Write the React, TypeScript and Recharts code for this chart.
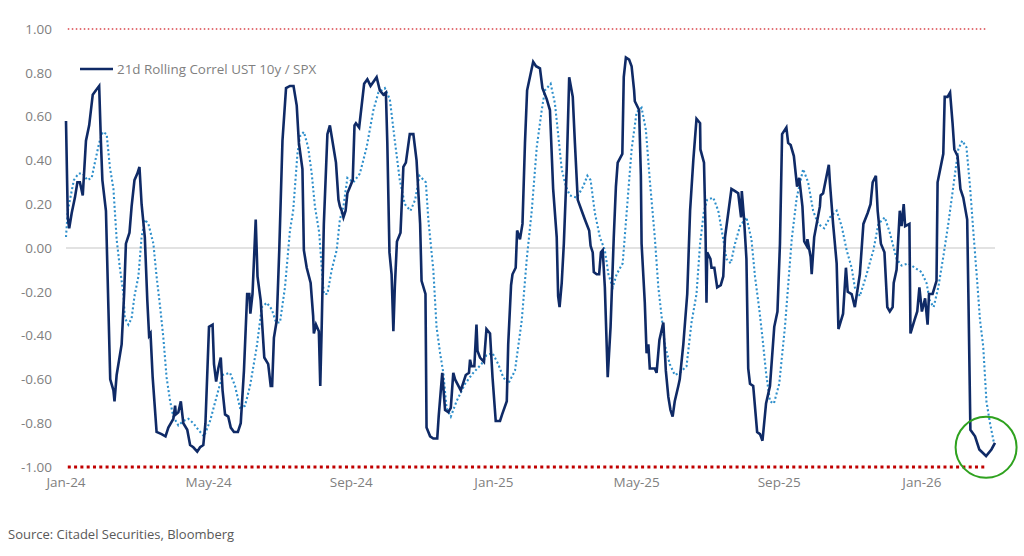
import { Legend, Line, LineChart, ReferenceDot, ReferenceLine, XAxis, YAxis } from "recharts";

// x positions are months since Jan-24
const mainMonths = [
  0.00, 0.05, 0.09, 0.16, 0.25, 0.32, 0.39, 0.47, 0.56, 0.65, 0.75, 0.84, 0.93, 0.98, 1.02, 1.12, 1.19, 1.24, 1.33, 1.36,
  1.42, 1.56, 1.63, 1.68, 1.78, 1.84, 1.92, 2.00, 2.06, 2.12, 2.21, 2.28, 2.33, 2.37, 2.43, 2.54, 2.68, 2.79, 2.87, 3.01,
  3.06, 3.08, 3.15, 3.22, 3.29, 3.40, 3.48, 3.57, 3.68, 3.76, 3.85, 3.91, 4.01, 4.11, 4.15, 4.21, 4.27, 4.34, 4.39, 4.46,
  4.55, 4.62, 4.71, 4.82, 4.90, 4.99, 5.08, 5.14, 5.17, 5.23, 5.32, 5.37, 5.46, 5.56, 5.67, 5.74, 5.78, 5.83, 5.91, 5.98,
  6.07, 6.17, 6.28, 6.38, 6.47, 6.53, 6.63, 6.67, 6.75, 6.86, 6.93, 6.95, 7.01, 7.09, 7.13, 7.17, 7.23, 7.33, 7.40, 7.50,
  7.57, 7.64, 7.68, 7.73, 7.78, 7.84, 7.89, 8.04, 8.09, 8.13, 8.22, 8.36, 8.45, 8.54, 8.71, 8.80, 8.90, 8.97, 9.01, 9.07,
  9.13, 9.18, 9.22, 9.28, 9.38, 9.46, 9.53, 9.64, 9.74, 9.83, 9.93, 9.97, 10.08, 10.11, 10.21, 10.30, 10.41, 10.45, 10.55, 10.63,
  10.72, 10.79, 10.86, 10.91, 11.07, 11.21, 11.30, 11.33, 11.37, 11.45, 11.51, 11.54, 11.61, 11.72, 11.79, 11.89, 11.96, 12.05, 12.17, 12.23,
  12.36, 12.40, 12.48, 12.52, 12.61, 12.65, 12.73, 12.80, 12.87, 12.93, 13.10, 13.18, 13.29, 13.36, 13.48, 13.57, 13.66, 13.76, 13.80, 13.84,
  13.90, 13.96, 14.04, 14.11, 14.21, 14.27, 14.35, 14.46, 14.55, 14.67, 14.71, 14.77, 14.80, 14.88, 14.95, 15.00, 15.05, 15.11, 15.19, 15.27,
  15.36, 15.42, 15.47, 15.60, 15.64, 15.70, 15.79, 15.86, 15.93, 15.95, 16.07, 16.12, 16.14, 16.23, 16.28, 16.33, 16.37, 16.51, 16.56, 16.64,
  16.75, 16.82, 16.89, 16.95, 17.01, 17.07, 17.17, 17.21, 17.31, 17.42, 17.50, 17.59, 17.68, 17.78, 17.79, 17.89, 17.93, 17.96, 17.98, 18.07,
  18.10, 18.18, 18.26, 18.36, 18.43, 18.48, 18.66, 18.76, 18.85, 18.93, 18.95, 19.01, 19.08, 19.13, 19.18, 19.27, 19.38, 19.46, 19.53, 19.63,
  19.74, 19.86, 19.95, 20.02, 20.08, 20.20, 20.25, 20.32, 20.41, 20.50, 20.56, 20.65, 20.70, 20.77, 20.79, 20.88, 20.91, 20.98, 21.14, 21.16,
  21.23, 21.39, 21.42, 21.51, 21.61, 21.66, 21.79, 21.87, 21.92, 22.03, 22.12, 22.26, 22.36, 22.48, 22.56, 22.62, 22.71, 22.76, 22.85, 22.95,
  23.03, 23.10, 23.18, 23.21, 23.29, 23.38, 23.43, 23.49, 23.53, 23.65, 23.68, 23.79, 23.87, 23.93, 24.00, 24.09, 24.16, 24.20, 24.30, 24.41,
  24.44, 24.60, 24.64, 24.72, 24.79, 24.86, 24.91, 25.00, 25.08, 25.16, 25.27, 25.31, 25.36, 25.49, 25.61, 25.80, 25.95, 26.05,
];
const mainValues = [
  0.58, 0.14, 0.09, 0.16, 0.23, 0.30, 0.30, 0.24, 0.49, 0.56, 0.70, 0.72, 0.74, 0.48, 0.31, 0.17, -0.28, -0.60, -0.65, -0.70,
  -0.58, -0.44, -0.21, 0.02, 0.07, 0.19, 0.31, 0.34, 0.37, 0.20, 0.05, -0.24, -0.40, -0.39, -0.59, -0.84, -0.85, -0.86, -0.82, -0.78,
  -0.72, -0.76, -0.75, -0.70, -0.80, -0.83, -0.90, -0.91, -0.93, -0.91, -0.90, -0.80, -0.36, -0.35, -0.53, -0.61, -0.55, -0.50, -0.65, -0.76,
  -0.77, -0.82, -0.84, -0.84, -0.80, -0.56, -0.21, -0.21, -0.30, -0.21, 0.13, -0.13, -0.24, -0.50, -0.53, -0.63, -0.63, -0.41, -0.33, -0.01,
  0.49, 0.73, 0.74, 0.74, 0.65, 0.48, 0.36, -0.01, -0.09, -0.16, -0.31, -0.39, -0.35, -0.38, -0.63, -0.36, 0.11, 0.52, 0.56, 0.46,
  0.39, 0.22, 0.19, 0.17, 0.14, 0.17, 0.25, 0.31, 0.56, 0.57, 0.55, 0.75, 0.77, 0.74, 0.78, 0.72, 0.70, 0.71, 0.48, -0.02,
  -0.12, -0.38, -0.18, 0.03, 0.07, 0.37, 0.39, 0.52, 0.52, 0.40, 0.11, -0.15, -0.21, -0.82, -0.86, -0.87, -0.87, -0.77, -0.57, -0.74,
  -0.75, -0.73, -0.57, -0.60, -0.65, -0.58, -0.57, -0.51, -0.54, -0.54, -0.35, -0.47, -0.50, -0.52, -0.37, -0.39, -0.59, -0.79, -0.79, -0.76,
  -0.70, -0.44, -0.17, -0.12, -0.09, 0.08, 0.04, 0.11, 0.48, 0.72, 0.85, 0.83, 0.82, 0.73, 0.68, 0.63, 0.27, 0.05, -0.22, -0.27,
  -0.16, 0.02, 0.36, 0.78, 0.69, 0.48, 0.22, 0.17, 0.13, 0.08, 0.01, -0.02, -0.11, -0.12, -0.12, -0.02, -0.01, -0.18, -0.59, -0.36,
  0.05, 0.28, 0.39, 0.43, 0.78, 0.87, 0.86, 0.83, 0.72, 0.67, 0.63, 0.33, 0.02, -0.25, -0.48, -0.44, -0.55, -0.55, -0.57, -0.42,
  -0.34, -0.56, -0.68, -0.74, -0.77, -0.70, -0.63, -0.60, -0.44, -0.21, 0.17, 0.40, 0.59, 0.57, 0.45, 0.39, 0.11, -0.25, -0.02, -0.05,
  -0.09, -0.09, -0.18, -0.17, -0.13, 0.05, 0.27, 0.26, 0.25, 0.14, 0.26, 0.14, -0.05, -0.55, -0.62, -0.63, -0.84, -0.85, -0.88, -0.71,
  -0.63, -0.36, -0.29, 0.02, 0.52, 0.55, 0.48, 0.47, 0.42, 0.28, 0.32, 0.19, 0.03, 0.01, 0.04, -0.04, -0.12, 0.05, 0.19, 0.24,
  0.25, 0.38, 0.30, 0.11, -0.07, -0.37, -0.30, -0.09, -0.20, -0.21, -0.27, -0.12, 0.11, 0.16, 0.20, 0.30, 0.33, 0.17, 0.02, -0.02,
  -0.27, -0.29, -0.27, -0.16, -0.10, 0.17, 0.10, 0.20, 0.10, 0.11, -0.39, -0.33, -0.29, -0.18, -0.29, -0.23, -0.35, -0.21, -0.21, -0.15,
  0.30, 0.43, 0.69, 0.69, 0.71, 0.57, 0.45, 0.42, 0.27, 0.23, 0.13, -0.28, -0.83, -0.86, -0.92, -0.95, -0.92, -0.89,
];
const avgMonths = [
  0.00, 0.05, 0.11, 0.22, 0.35, 0.47, 0.60, 0.72, 0.81, 0.93, 1.03, 1.14, 1.23, 1.33, 1.42, 1.51, 1.61, 1.65, 1.75, 1.84,
  1.92, 2.03, 2.12, 2.21, 2.31, 2.45, 2.54, 2.64, 2.73, 2.82, 2.92, 3.01, 3.15, 3.29, 3.43, 3.57, 3.71, 3.87, 4.04, 4.22,
  4.39, 4.60, 4.74, 4.88, 5.02, 5.16, 5.35, 5.49, 5.63, 5.77, 5.89, 6.00, 6.14, 6.28, 6.37, 6.49, 6.56, 6.67, 6.79, 6.89,
  6.98, 7.10, 7.17, 7.23, 7.33, 7.45, 7.59, 7.68, 7.78, 7.89, 8.06, 8.24, 8.43, 8.62, 8.76, 8.94, 9.08, 9.22, 9.36, 9.50,
  9.66, 9.79, 9.91, 10.09, 10.16, 10.30, 10.39, 10.49, 10.58, 10.67, 10.79, 10.95, 11.19, 11.42, 11.65, 11.79, 11.96, 12.12, 12.26, 12.40,
  12.59, 12.78, 12.92, 13.06, 13.20, 13.34, 13.43, 13.59, 13.71, 13.80, 13.90, 14.02, 14.13, 14.32, 14.50, 14.62, 14.71, 14.83, 14.97, 15.11,
  15.21, 15.33, 15.44, 15.61, 15.72, 15.86, 16.00, 16.14, 16.26, 16.37, 16.51, 16.61, 16.70, 16.79, 16.93, 17.07, 17.21, 17.40, 17.54, 17.68,
  17.78, 17.89, 17.98, 18.15, 18.29, 18.43, 18.52, 18.64, 18.76, 18.90, 19.08, 19.22, 19.32, 19.44, 19.53, 19.63, 19.74, 19.85, 20.00, 20.16,
  20.35, 20.49, 20.67, 20.81, 20.95, 21.09, 21.26, 21.42, 21.61, 21.75, 21.89, 22.03, 22.12, 22.26, 22.45, 22.64, 22.78, 22.96, 23.10, 23.29,
  23.43, 23.62, 23.80, 23.99, 24.13, 24.22, 24.33, 24.46, 24.60, 24.74, 24.88, 25.02, 25.13, 25.25, 25.35, 25.44, 25.54, 25.63, 25.72, 25.81,
  25.91, 26.02,
];
const avgValues = [
  0.05, 0.17, 0.22, 0.31, 0.34, 0.34, 0.31, 0.32, 0.39, 0.48, 0.53, 0.52, 0.37, 0.27, 0.04, -0.09, -0.21, -0.32, -0.35, -0.32,
  -0.22, -0.13, 0.05, 0.13, 0.11, 0.02, -0.13, -0.27, -0.41, -0.59, -0.70, -0.77, -0.81, -0.79, -0.78, -0.80, -0.83, -0.86, -0.79, -0.68,
  -0.58, -0.57, -0.63, -0.73, -0.72, -0.63, -0.45, -0.27, -0.25, -0.28, -0.34, -0.34, -0.18, 0.08, 0.17, 0.43, 0.51, 0.53, 0.46, 0.34,
  0.19, 0.07, -0.09, -0.21, -0.21, -0.10, -0.01, 0.13, 0.19, 0.32, 0.30, 0.34, 0.46, 0.63, 0.71, 0.73, 0.68, 0.49, 0.31, 0.20,
  0.17, 0.22, 0.33, 0.30, 0.13, -0.10, -0.36, -0.48, -0.57, -0.73, -0.77, -0.70, -0.62, -0.57, -0.53, -0.49, -0.48, -0.53, -0.59, -0.62,
  -0.56, -0.33, -0.05, 0.17, 0.46, 0.63, 0.72, 0.75, 0.66, 0.52, 0.36, 0.28, 0.24, 0.23, 0.28, 0.33, 0.31, 0.16, 0.05, -0.01,
  -0.12, -0.18, -0.12, -0.07, 0.16, 0.45, 0.62, 0.64, 0.54, 0.31, 0.05, -0.18, -0.31, -0.44, -0.53, -0.58, -0.57, -0.54, -0.34, -0.21,
  0.02, 0.17, 0.22, 0.23, 0.17, 0.04, -0.05, -0.07, 0.02, 0.10, 0.14, 0.04, -0.13, -0.28, -0.41, -0.57, -0.70, -0.71, -0.62, -0.36,
  0.04, 0.23, 0.36, 0.30, 0.17, 0.11, 0.09, 0.14, 0.17, 0.10, -0.01, -0.09, -0.18, -0.22, -0.12, -0.01, 0.11, 0.14, 0.07, -0.05,
  -0.08, -0.07, -0.09, -0.11, -0.16, -0.24, -0.27, -0.18, -0.04, 0.11, 0.28, 0.45, 0.49, 0.46, 0.28, 0.08, -0.13, -0.33, -0.45, -0.70,
  -0.80, -0.89,
];
const upperLimit = [1, 1];
const lowerLimit = [-1, -1];
const limitMonths = [0.05, 25.8];
const xTicks = [0, 4, 8, 12, 16, 20, 24];
const xLabels = ["Jan-24", "May-24", "Sep-24", "Jan-25", "May-25", "Sep-25", "Jan-26"];
const yTicks = [-1, -0.8, -0.6, -0.4, -0.2, 0, 0.2, 0.4, 0.6, 0.8, 1];
const legendName = "21d Rolling Correl UST 10y / SPX";
const sourceNote = "Source: Citadel Securities, Bloomberg";

const mainData = mainMonths.map((m, i) => ({ m, v: mainValues[i] }));
const avgData = avgMonths.map((m, i) => ({ m, v: avgValues[i] }));
const upperData = limitMonths.map((m, i) => ({ m, v: upperLimit[i] }));
const lowerData = limitMonths.map((m, i) => ({ m, v: lowerLimit[i] }));

const FONT = "'Open Sans', sans-serif";
const tickStyle = { fill: "#7f7f7f", fontSize: 13.5, fontFamily: FONT };

function LegendLine() {
  return (
    <div style={{ display: "flex", alignItems: "center", whiteSpace: "nowrap" }}>
      <svg width={33} height={4} style={{ marginRight: 4 }}>
        <line x1={0} y1={2} x2={33} y2={2} stroke="#0f2a66" strokeWidth={2.6} />
      </svg>
      <span style={{ color: "#7f7f7f", fontSize: 13.4 }}>{legendName}</span>
    </div>
  );
}

export default function App() {
  return (
    <div style={{ position: "absolute", left: 0, top: 0, width: 1024, height: 556, background: "#fff", fontFamily: FONT }}>
      <LineChart width={1024} height={556} margin={{ top: 29, right: 29, bottom: 59, left: 0 }}>
        <XAxis
          type="number"
          dataKey="m"
          domain={[0, 26.05]}
          ticks={xTicks}
          interval={0}
          tickFormatter={(m: number) => xLabels[xTicks.indexOf(m)]}
          tick={tickStyle}
          axisLine={false}
          tickLine={false}
          tickMargin={4}
        />
        <YAxis
          type="number"
          width={66}
          domain={[-1, 1]}
          ticks={yTicks}
          interval={0}
          tickFormatter={(v: number) => v.toFixed(2)}
          tick={tickStyle}
          axisLine={false}
          tickLine={false}
          tickMargin={8}
        />
        <ReferenceLine y={0} stroke="#d9d9d9" strokeWidth={1.5} />
        <Line data={upperData} dataKey="v" legendType="none" stroke="#d9434a" strokeWidth={1.5} strokeDasharray="1.5 2.5" dot={false} isAnimationActive={false} />
        <Line data={lowerData} dataKey="v" legendType="none" stroke="#c00000" strokeWidth={3} strokeDasharray="3 3.3" dot={false} isAnimationActive={false} />
        <Line data={avgData} dataKey="v" legendType="none" stroke="#2e8fcb" strokeWidth={2.1} strokeDasharray="2 2.4" dot={false} isAnimationActive={false} />
        <Line data={mainData} dataKey="v" name={legendName} stroke="#0f2a66" strokeWidth={2.6} dot={false} isAnimationActive={false} />
        <ReferenceDot x={25.8} y={-0.91} r={30.5} fill="none" stroke="#2fa21f" strokeWidth={2} ifOverflow="visible" />
        <Legend
          layout="horizontal"
          align="center"
          verticalAlign="middle"
          content={<LegendLine />}
          wrapperStyle={{ left: 80, top: 60, width: "auto", fontFamily: FONT }}
        />
      </LineChart>
      <div style={{ position: "absolute", left: 8, top: 525, fontSize: 13, color: "#595959", whiteSpace: "nowrap" }}>{sourceNote}</div>
    </div>
  );
}
